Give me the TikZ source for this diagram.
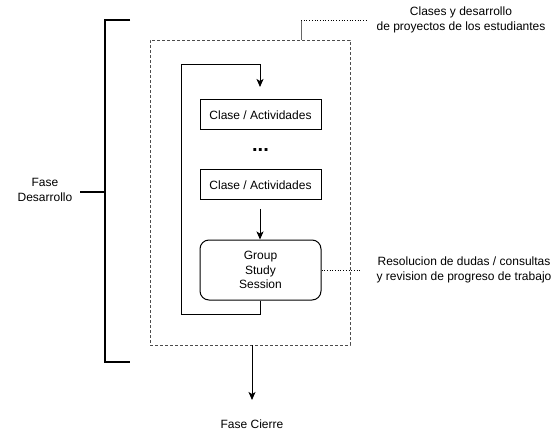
\documentclass[tikz,border=0pt]{standalone}
\usepackage{fontspec}
\setmainfont{Liberation Sans}
\usetikzlibrary{arrows.meta}
\begin{document}
\begin{tikzpicture}[x=1pt,y=-1pt,
  font=\fontsize{12}{14.5}\selectfont,
  box/.style={draw,line width=1pt,minimum width=121pt,minimum height=30pt,inner sep=0pt},
  rbox/.style={box,rounded corners=9pt,minimum height=60pt,align=center},
  lbl/.style={align=center,inner sep=0pt},
  flow/.style={line width=1pt,-{Stealth[length=8pt,width=7pt,inset=2pt]}},
  link/.style={line width=1pt},
  note/.style={line width=0.7pt,dotted},
]
\useasboundingbox (0,0) rectangle (560,441);
% dashed container
\node[draw=black!70,dashed,line width=0.8pt,minimum width=200pt,minimum height=305pt,inner sep=0pt,dash pattern=on 3pt off 2pt] (cont) at (250,192.5) {};
% bracket
\coordinate (bt) at (130,20);
\coordinate (btl) at (105,20);
\coordinate (bbl) at (105,362);
\coordinate (bb) at (130,362);
\coordinate (bm) at (105,192);
\coordinate (bmt) at (80,192);
\draw[line width=2pt] (bt) -- (btl) -- (bbl) -- (bb);
\draw[line width=2pt] (bm) -- (bmt);
\node[lbl] (fd) at (45,190) {Fase\\Desarrollo};
% boxes
\node[box] (c1) at (260.5,115) {Clase / Actividades};
\node[lbl,font=\fontsize{20}{20}\selectfont\bfseries] (dots) at (260.5,150) {...};
\node[box] (c2) at (260.5,185) {Clase / Actividades};
\node[rbox] (gs) at (260.5,270) {Group\\Study\\Session};
% loop
\coordinate (lt) at (260,65);
\coordinate (ltl) at (181,65);
\coordinate (lbl2) at (181,314);
\coordinate (lb) at (260,314);
\coordinate (lin) at (260,87);
\draw[flow] (gs.south -| lb) -- (lb) -- (lbl2) -- (ltl) -- (lt) -- (lin);
\coordinate (a1) at (260,209);
\draw[flow] (a1) -- (a1 |- gs.north);
% exit arrow
\coordinate (ex) at (252,345);
\node[lbl] (fc) at (252,424) {Fase Cierre};
\draw[flow] (ex) -- (252,400);
% top note
\coordinate (tn1) at (301,40);
\coordinate (tn2) at (301,20);
\coordinate (tn3) at (366,20);
\draw[link,draw=black!60] (tn1) -- (tn2);
\draw[note] (tn2) -- (tn3);
\node[lbl] (tl) at (461,20) {Clases y desarrollo\\de proyectos de los estudiantes};
% side note
\coordinate (sn) at (360,270);
\draw[note] (gs.east) -- (sn);
\node[lbl] (sl) at (464,270) {Resolucion de dudas / consultas\\y revision de progreso de trabajo};
\end{tikzpicture}
\end{document}
